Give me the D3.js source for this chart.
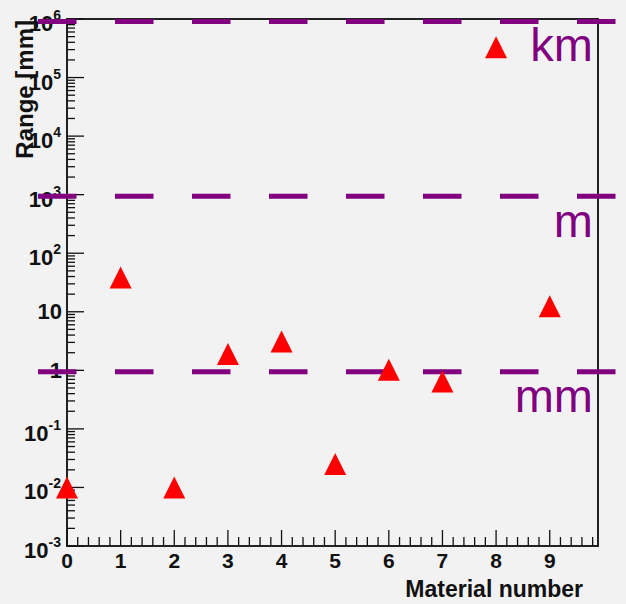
<!DOCTYPE html>
<html>
<head>
<meta charset="utf-8">
<script src="https://cdn.jsdelivr.net/npm/d3@7"></script>
<style>
  html, body { margin: 0; padding: 0; background: #f2f2f2; }
  svg { display: block; font-family: "Liberation Sans", Arial, sans-serif; }
</style>
</head>
<body>
<div id="chart"></div>
<script>
// data
var materials = [0, 1, 2, 3, 4, 5, 6, 7, 8, 9];
var ranges = [0.01, 38.5, 0.01, 1.9, 3.1, 0.0252, 1.02, 0.644, 3.28e5, 12.4];
var unitValues = [1e6, 1e3, 1];
var unitNames = ["km", "m", "mm"];
var yTickExps = [-3, -2, -1, 0, 1, 2, 3, 4, 5, 6];
var xTickLabels = ["0", "1", "2", "3", "4", "5", "6", "7", "8", "9"];

var width = 626, height = 604;
var margin = { left: 67, right: 28, top: 19, bottom: 58 };

var svg = d3.select("#chart").append("svg")
    .attr("width", width)
    .attr("height", height);

svg.append("rect")
    .attr("width", width)
    .attr("height", height)
    .attr("fill", "#f2f2f2");

var x = d3.scaleLinear()
    .domain([0, 9.9])
    .range([margin.left, width - margin.right]);
var y = d3.scaleLog()
    .domain([1e-3, 1e6])
    .range([height - margin.bottom, margin.top]);

var x0 = x.range()[0], x1 = x.range()[1];
var y0 = y.range()[0], y1 = y.range()[1];

// frame
svg.append("rect")
    .attr("x", x0)
    .attr("y", y1)
    .attr("width", x1 - x0)
    .attr("height", y0 - y1)
    .attr("fill", "none")
    .attr("stroke", "#222")
    .attr("stroke-width", 2);

// x axis ticks (inward)
var xMinor = d3.range(0, 9.9, 0.2);
svg.append("g").selectAll("line")
    .data(xMinor)
    .enter()
    .append("line")
    .attr("x1", function (d) { return x(d); })
    .attr("x2", function (d) { return x(d); })
    .attr("y1", y0)
    .attr("y2", function (d) { return Math.abs(d - Math.round(d)) < 1e-6 ? y0 - 16 : y0 - 9; })
    .attr("stroke", "#111")
    .attr("stroke-width", 1.3);

svg.append("g").selectAll("text")
    .data(xTickLabels)
    .enter()
    .append("text")
    .attr("x", function (d) { return x(+d); })
    .attr("y", y0 + 22)
    .attr("text-anchor", "middle")
    .attr("font-size", 21)
    .attr("font-weight", "bold")
    .attr("fill", "#111")
    .text(function (d) { return d; });

svg.append("text")
    .attr("x", 583)
    .attr("y", 597)
    .attr("text-anchor", "end")
    .attr("font-size", 23)
    .attr("font-weight", "bold")
    .attr("fill", "#111")
    .text("Material number");

// y axis ticks (inward)
var yMinor = [];
yTickExps.slice(0, -1).forEach(function (e) {
    for (var k = 2; k <= 9; k++) yMinor.push(k * Math.pow(10, e));
});
svg.append("g").selectAll("line")
    .data(yMinor)
    .enter()
    .append("line")
    .attr("x1", x0)
    .attr("x2", x0 + 8)
    .attr("y1", function (d) { return y(d); })
    .attr("y2", function (d) { return y(d); })
    .attr("stroke", "#111")
    .attr("stroke-width", 1.3);
svg.append("g").selectAll("line")
    .data(yTickExps)
    .enter()
    .append("line")
    .attr("x1", x0)
    .attr("x2", x0 + 17)
    .attr("y1", function (d) { return y(Math.pow(10, d)); })
    .attr("y2", function (d) { return y(Math.pow(10, d)); })
    .attr("stroke", "#111")
    .attr("stroke-width", 1.3);

svg.append("g").selectAll("text")
    .data(yTickExps)
    .enter()
    .append("text")
    .attr("text-anchor", "end")
    .attr("font-weight", "bold")
    .attr("fill", "#111")
    .each(function (e) {
        var t = d3.select(this);
        var ty = y(Math.pow(10, e));
        if (e === 0 || e === 1) {
            t.attr("x", x0 - 5).attr("y", ty + 7.5).attr("font-size", 22)
                .text(e === 0 ? "1" : "10");
        } else {
            t.attr("x", x0 - 6).attr("y", ty + 12).attr("font-size", 22);
            t.append("tspan").text("10");
            t.append("tspan").attr("font-size", 14).attr("dy", -11).text(e);
        }
    });

svg.append("text")
    .attr("transform", "translate(33," + (y1 + 1) + ") rotate(-90)")
    .attr("text-anchor", "end")
    .attr("font-size", 24)
    .attr("font-weight", "bold")
    .attr("fill", "#111")
    .text("Range [mm]");

// dashed unit lines
svg.append("g").selectAll("line")
    .data(unitValues)
    .enter()
    .append("line")
    .attr("x1", 38)
    .attr("x2", 616)
    .attr("y1", function (d, i) { return y(d) + (i === 0 ? 2.5 : 1.5); })
    .attr("y2", function (d, i) { return y(d) + (i === 0 ? 2.5 : 1.5); })
    .attr("stroke", "#800080")
    .attr("stroke-width", 5)
    .attr("stroke-dasharray", "38.5,38.5");

svg.append("g").selectAll("text")
    .data(unitValues)
    .enter()
    .append("text")
    .attr("x", 593)
    .attr("y", function (d) { return y(d) + 42; })
    .attr("text-anchor", "end")
    .attr("font-size", 47)
    .attr("fill", "#800080")
    .text(function (d, i) { return unitNames[i]; });

// points
svg.append("g").selectAll("path")
    .data(materials)
    .enter()
    .append("path")
    .attr("d", "M0,-11L11,11L-11,11Z")
    .attr("transform", function (d, i) { return "translate(" + x(d) + "," + y(ranges[i]) + ")"; })
    .attr("fill", "#ff0000");
</script>
</body>
</html>
